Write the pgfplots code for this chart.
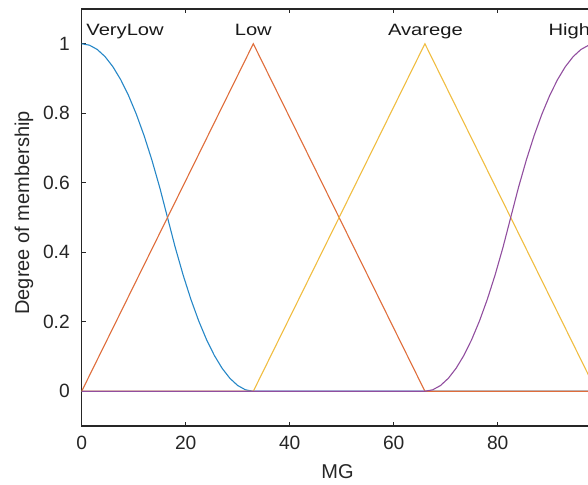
\documentclass[border=0pt]{standalone}
\usepackage{fontspec}
\setmainfont{Liberation Sans}
\usepackage{graphicx}
\usepackage{pgfplots}
\pgfplotsset{compat=1.18}
\definecolor{mblue}{rgb}{0,0.447,0.741}
\definecolor{morange}{rgb}{0.85,0.325,0.098}
\definecolor{myellow}{rgb}{0.929,0.694,0.125}
\definecolor{mpurple}{rgb}{0.494,0.184,0.556}
\definecolor{axgray}{rgb}{0.15,0.15,0.15}
\begin{document}
\begin{tikzpicture}
\useasboundingbox (-40.85pt,-29pt) rectangle (253.15pt,213pt);
\clip (-40.85pt,-29pt) rectangle (253.15pt,213pt);
\begin{axis}[
  at={(0pt,0pt)}, anchor=south west,
  scale only axis, width=260pt, height=208.5pt,
  xmin=0, xmax=100, ymin=-0.1, ymax=1.1,
  xtick={0,20,40,60,80},
  ytick={0,0.2,0.4,0.6,0.8,1},
  axis line style={axgray, line width=0.6pt},
  every tick/.style={axgray, line width=0.5pt},
  major tick length=2.2pt,
  tick align=inside,
  /pgf/number format/assume math mode=true,
  tick label style={font=\fontsize{9.6}{11}\selectfont, text=axgray},
  xticklabel style={anchor=north, inner sep=0pt, yshift=-5.0pt},
  yticklabel style={anchor=east, inner sep=0pt, xshift=-5.8pt},
  xlabel={MG},
  ylabel={Degree of membership},
  label style={font=\fontsize{10}{12}\selectfont, text=axgray},
  xlabel style={at={(axis description cs:0.492,-0.091)}, anchor=north, inner sep=0pt},
  ylabel style={at={(axis description cs:-0.111,0.511)}, anchor=center, inner sep=0pt},
  clip=true,
]
% VeryLow (zmf [0 33])
\addplot[mblue!85, line width=0.55pt] coordinates {
(0,1) (1.5,0.99587) (3,0.98347) (4.5,0.96281) (6,0.93388) (7.5,0.89669)
(9,0.85124) (10.5,0.79752) (12,0.73554) (13.5,0.66529) (15,0.58678) (16.5,0.5)
(18,0.41322) (19.5,0.33471) (21,0.26446) (22.5,0.20248) (24,0.14876) (25.5,0.10331)
(27,0.06612) (28.5,0.03719) (30,0.01653) (31.5,0.00413) (33,0) (100,0)
};
% Low
\addplot[morange!85, line width=0.55pt] coordinates {
(0,0) (33,1) (66,0) (100,0)
};
% Avarege
\addplot[myellow!85, line width=0.55pt] coordinates {
(0,0) (33,0) (66,1) (99,0) (100,0)
};
% High (smf [66 99])
\addplot[mpurple!85, line width=0.55pt] coordinates {
(0,0) (66,0) (67.5,0.00413) (69,0.01653) (70.5,0.03719) (72,0.06612) (73.5,0.10331)
(75,0.14876) (76.5,0.20248) (78,0.26446) (79.5,0.33471) (81,0.41322) (82.5,0.5)
(84,0.58678) (85.5,0.66529) (87,0.73554) (88.5,0.79752) (90,0.85124) (91.5,0.89669)
(93,0.93388) (94.5,0.96281) (96,0.98347) (97.5,0.99587) (99,1) (100,1)
};
\begin{scope}[every node/.style={font=\fontsize{8.2}{10}\selectfont, text=black!90, inner sep=0pt}]
\node[anchor=base west] at (axis cs:0.83,1.024) {\scalebox{1.23}[1]{VeryLow}};
\node[anchor=base] at (axis cs:33,1.024) {\scalebox{1.23}[1]{Low}};
\node[anchor=base] at (axis cs:66.1,1.024) {\scalebox{1.23}[1]{Avarege}};
\node[anchor=base west] at (axis cs:89.7,1.024) {\scalebox{1.23}[1]{High}};
\end{scope}
\end{axis}
\end{tikzpicture}
\end{document}
